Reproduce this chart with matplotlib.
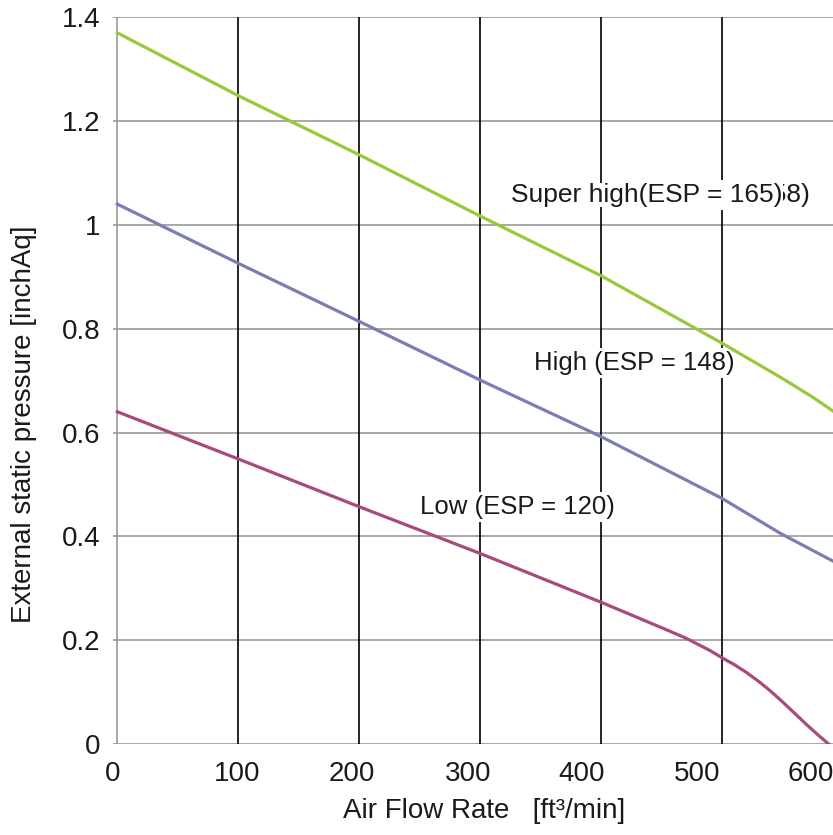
import numpy as np
import matplotlib.pyplot as plt
from matplotlib import use
use('Agg')

plt.rcParams['font.family'] = ['Liberation Sans', 'DejaVu Sans']

#### data ####
x_super = [0, 100, 200, 300, 400, 500, 525, 550, 575, 600]
y_super = [1.370, 1.249, 1.135, 1.017, 0.902, 0.772, 0.738, 0.704, 0.668, 0.628]

x_high = [0, 100, 200, 300, 400, 500, 548, 600]
y_high = [1.040, 0.926, 0.814, 0.701, 0.592, 0.473, 0.406, 0.342]

x_low = [0, 100, 200, 300, 400, 450, 470, 490, 500, 510, 520, 530,
         540, 550, 560, 570, 580, 588]
y_low = [0.640, 0.549, 0.457, 0.367, 0.273, 0.224, 0.204, 0.180, 0.166,
         0.153, 0.138, 0.121, 0.102, 0.081, 0.059, 0.037, 0.016, 0.0]

vlines = [100, 200, 300, 400, 500]
yticks = [0, 0.2, 0.4, 0.6, 0.8, 1.0, 1.2, 1.4]
ytick_labels = ['0', '0.2', '0.4', '0.6', '0.8', '1', '1.2', '1.4']
xtick_pos = [-4, 99, 194, 290, 384, 479, 573]
xtick_labels = ['0', '100', '200', '300', '400', '500', '600']

c_super = '#99c93a'
c_high = '#7b7eb4'
c_low = '#a84a7c'
grid_c = '#999999'
txt_c = '#1a1a1a'

fig = plt.figure(figsize=(8.33, 8.35), dpi=100)
ax = fig.add_axes([0.1351, 0.109, 0.877, 0.8703])
ax.set_xlim(0, 600)
ax.set_ylim(0, 1.4)

## horizontal grid + vertical black lines
for yv in yticks:
    ax.axhline(yv, color=grid_c, lw=1.2, zorder=1)
for xv in vlines:
    ax.axvline(xv, color='black', lw=1.2, zorder=1)
ax.axvline(0, color=grid_c, lw=1.2, zorder=1)

for s in ax.spines.values():
    s.set_visible(False)

ax.plot(x_super, y_super, color=c_super, lw=2.3, zorder=4)
ax.plot(x_high, y_high, color=c_high, lw=2.3, zorder=4)
ax.plot(x_low, y_low, color=c_low, lw=2.3, zorder=4)

ax.set_yticks(yticks)
ax.set_yticklabels(ytick_labels)
ax.set_xticks(xtick_pos)
ax.set_xticklabels(xtick_labels)
ax.tick_params(axis='both', length=0, labelsize=20, labelcolor=txt_c)
ax.tick_params(axis='y', pad=9)
ax.tick_params(axis='x', pad=12)

box = dict(facecolor='white', edgecolor='none', pad=2)
ax.text(330.6, 0.456, 'Low (ESP = 120)', fontsize=18.5, color=txt_c,
        ha='center', va='center', bbox=box, zorder=3)
ax.text(427.5, 0.734, 'High (ESP = 148)', fontsize=18.5, color=txt_c,
        ha='center', va='center', bbox=box, zorder=3)
# two labels stacked on top of each other, as in the source chart
ax.text(513.0, 1.058, '(ESP = 158)', fontsize=19, color=txt_c,
        ha='center', va='center', bbox=box, zorder=3)
ax.text(438.0, 1.058, 'Super high(ESP = 165)', fontsize=19, color=txt_c,
        ha='center', va='center', bbox=dict(facecolor='white', edgecolor='none', pad=0),
        zorder=3.5)

fig.text(0.581, 0.029, 'Air Flow Rate   [ft³/min]', fontsize=20, color=txt_c,
         ha='center', va='center')
fig.text(0.029, 0.492, 'External static pressure [inchAq]', fontsize=20,
         color=txt_c, ha='center', va='center', rotation=90)

fig.savefig('out.png', dpi=100)
